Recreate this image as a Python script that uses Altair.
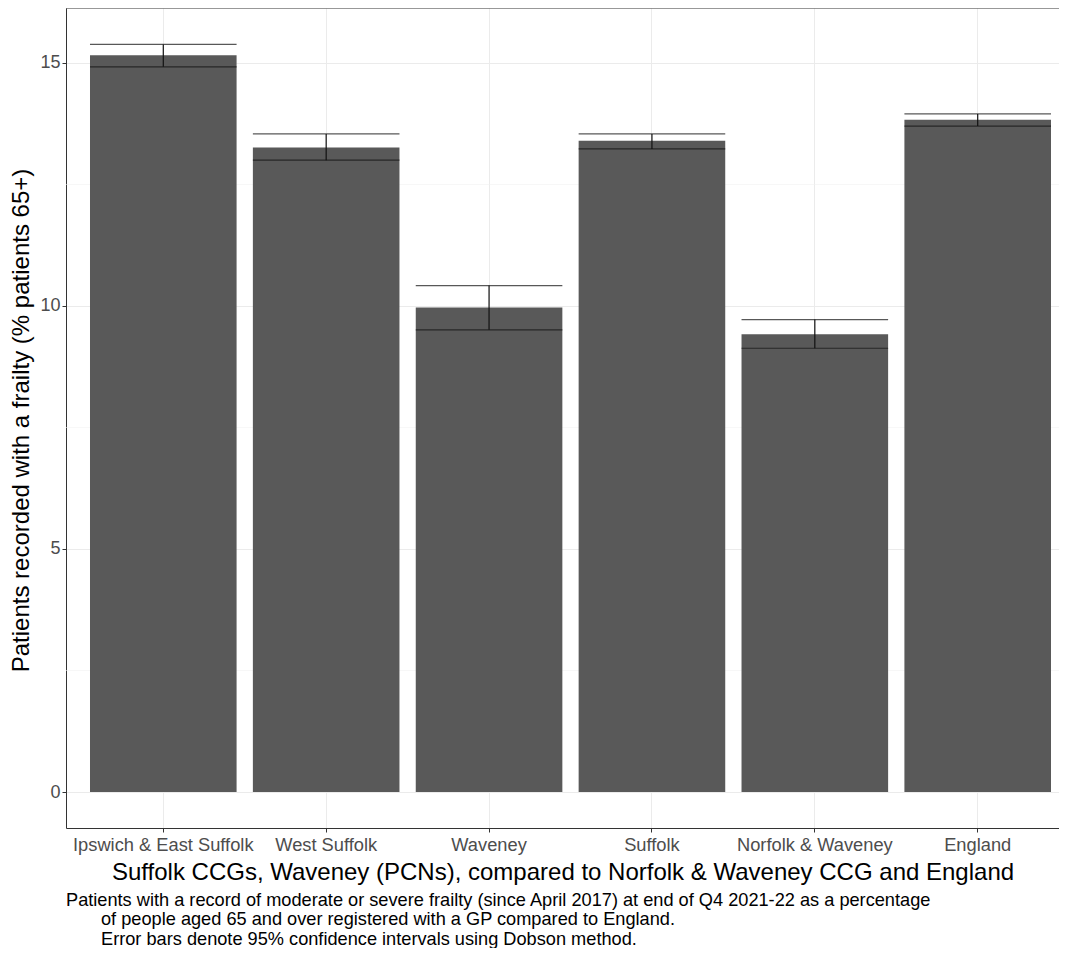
import altair as alt
import pandas as pd

categories = ["Ipswich & East Suffolk", "West Suffolk", "Waveney", "Suffolk",
              "Norfolk & Waveney", "England"]
values = [15.16, 13.26, 9.97, 13.40, 9.42, 13.83]
lower = [14.92, 13.00, 9.51, 13.23, 9.13, 13.70]
upper = [15.38, 13.54, 10.42, 13.54, 9.72, 13.95]
y_ticks = [0, 5, 10, 15]
minor_ticks = [2.5, 7.5, 12.5]
x_title = "Suffolk CCGs, Waveney (PCNs), compared to Norfolk & Waveney CCG and England"
y_title = "Patients recorded with a frailty (% patients 65+)"
caption_lines = [
    "Patients with a record of moderate or severe frailty (since April 2017) at end of Q4 2021-22 as a percentage",
    "of people aged 65 and over registered with a GP compared to England.",
    "Error bars denote 95% confidence intervals using Dobson method.",
]

FONT = "Liberation Sans"
W, H = 993, 820
P_IN, P_OUT = 0.1, 0.0982
step = W / (len(categories) - P_IN + 2 * P_OUT)
bar_w = step * (1 - P_IN)

df = pd.DataFrame({"cat": categories, "value": values, "lo": lower, "hi": upper})

xscale = alt.Scale(domain=categories, paddingInner=P_IN, paddingOuter=P_OUT, align=0.75)
yscale = alt.Scale(domain=[-0.74, 16.13], nice=False, zero=False)

x_axis = alt.Axis(title=x_title, labelAngle=0, bandPosition=0.5, grid=True,
                  gridColor="#EBEBEB", gridWidth=1, domainColor="#333333",
                  domainWidth=1, tickColor="#333333", tickSize=4,
                  labelColor="#4D4D4D", labelFontSize=18.3, labelPadding=4,
                  labelLimit=0, labelOverlap=False,
                  labelFont=FONT, titleFont=FONT, titleFontSize=24,
                  titleFontWeight="normal", titleColor="black", titleY=44,
                  titleBaseline="middle")
y_axis = alt.Axis(title=y_title, values=y_ticks, grid=True, gridColor="#EBEBEB",
                  gridWidth=1, domainColor="#333333", domainWidth=1,
                  tickColor="#333333", tickSize=4, labelColor="#4D4D4D",
                  labelFontSize=18, labelPadding=2, labelFont=FONT,
                  titleFont=FONT, titleFontSize=24, titleFontWeight="normal",
                  titleColor="black", titleX=-45, titleY=H / 2 + 2, titleAngle=270,
                  titleAlign="center", titleBaseline="middle")


def X():
    return alt.X("cat:N", scale=xscale, sort=categories, axis=x_axis)


def Y(field):
    return alt.Y(field, scale=yscale, axis=y_axis)


minor = alt.Chart(pd.DataFrame({"v": minor_ticks})).mark_rule(
    color="#F2F2F2", strokeWidth=0.6).encode(y=Y("v:Q"))

bars = alt.Chart(df).mark_bar(color="#595959").encode(x=X(), y=Y("value:Q"))

err = alt.Chart(df).mark_rule(color="#111111", strokeWidth=1.2).encode(
    x=X(), y=Y("lo:Q"), y2=alt.Y2("hi:Q"))
cap_lo = alt.Chart(df).mark_tick(color="#111111", thickness=1.2, size=bar_w).encode(
    x=X(), y=Y("lo:Q"))
cap_hi = alt.Chart(df).mark_tick(color="#111111", thickness=1.2, size=bar_w).encode(
    x=X(), y=Y("hi:Q"))

top_border = alt.Chart(pd.DataFrame({"a": [0]})).mark_rule(
    color="#333333", strokeWidth=1).encode(
    x=alt.value(0), x2=alt.value(W), y=alt.value(0))

cap_x = [0, 35, 35]
cap_y = [893, 912, 932]
captions = []
for i, line in enumerate(caption_lines):
    captions.append(
        alt.Chart(pd.DataFrame({"t": [line]})).mark_text(
            align="left", baseline="middle", font=FONT, fontSize=18.2,
            color="black").encode(text="t:N", x=alt.value(cap_x[i]),
                                  y=alt.value(cap_y[i])))

chart = alt.layer(minor, bars, err, cap_lo, cap_hi, top_border, *captions).properties(
    width=W, height=H,
    padding={"left": 58, "top": 0, "right": 0, "bottom": 120},
    autosize=alt.AutoSizeParams(type="none"),
).configure_view(stroke=None)

chart.save("out.html", embed_options={"renderer": "svg", "actions": False})
